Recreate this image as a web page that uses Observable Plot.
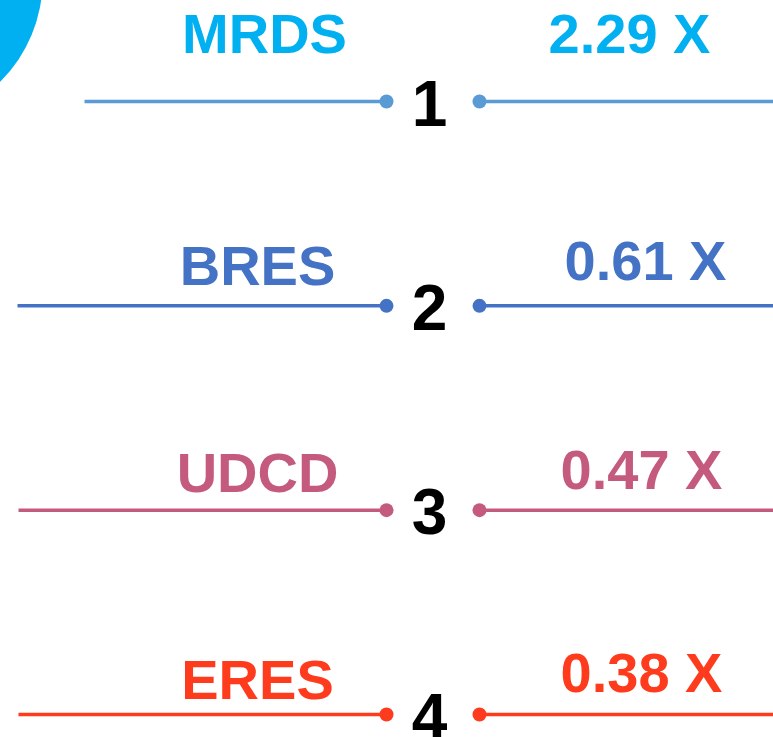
<!DOCTYPE html>
<html>
<head>
<meta charset="utf-8">
<script src="https://cdn.jsdelivr.net/npm/d3@7"></script>
<script src="https://cdn.jsdelivr.net/npm/@observablehq/plot@0.6"></script>
<style>
  html, body { margin: 0; padding: 0; background: #fff; overflow: hidden; }
  #chart svg { display: block; }
</style>
</head>
<body>
<div id="chart"></div>
<script>
// ---- data ----
const ranks = [1, 2, 3, 4];
const labels = ["MRDS", "BRES", "UDCD", "ERES"];
const values = [2.29, 0.61, 0.47, 0.38];

// ---- styles / layout (not data) ----
const textColors = ["#00B0F0", "#4472C4", "#C55A7F", "#FF3B1E"];
const lineColors = ["#5B9BD5", "#4472C4", "#C55A7F", "#FF3B1E"];
const W = 773, H = 737;
const rowTop = 101, rowBottom = 714;
const step = (rowBottom - rowTop) / (ranks.length - 1);
const leftStart = [84, 17, 18, 18];
const leftDotX = 386, rightDotX = 479;
const rankX = 429;
const labelX = [264, 257, 257, 257];
const valueX = [629, 645, 641, 641];
const labelOffset = [-49, -21, -18, -16];
const valueOffset = [-49, -26, -21, -23];

const rows = ranks.map((r, i) => ({
  rank: r, label: labels[i], value: values[i],
  tc: textColors[i], lc: lineColors[i],
  x0: leftStart[i], lx: labelX[i], vx: valueX[i],
  ly: r + labelOffset[i] / step, vy: r + valueOffset[i] / step
}));

const font = "'Liberation Sans', Arial, sans-serif";

const chart = Plot.plot({
  width: W, height: H, margin: 0,
  x: {domain: [0, W], range: [0, W], axis: null},
  y: {domain: [1, 4], range: [rowTop, rowBottom], axis: null},
  style: {fontFamily: font, background: "#fff"},
  marks: [
    Plot.dot([0], {frameAnchor: "top-left", dx: -100, dy: -20, r: 142, fill: "#00B0F0"}),
    Plot.link(rows, {x1: "x0", x2: () => leftDotX, y1: "rank", y2: "rank", stroke: "lc", strokeWidth: 3.5}),
    Plot.link(rows, {x1: () => rightDotX, x2: () => W + 5, y1: "rank", y2: "rank", stroke: "lc", strokeWidth: 3.5}),
    Plot.dot(rows, {x: () => leftDotX, y: "rank", r: 7, fill: "lc"}),
    Plot.dot(rows, {x: () => rightDotX, y: "rank", r: 7, fill: "lc"}),
    Plot.text(rows, {x: () => rankX, y: "rank", text: d => String(d.rank), lineAnchor: "bottom", dy: 24,
      fontSize: 64, fontWeight: "bold", fill: "#000", textAnchor: "middle"}),
    Plot.text(rows, {x: "lx", y: "ly", text: "label", lineAnchor: "bottom", fontSize: 56, fontWeight: "bold",
      fill: "tc", textAnchor: "middle"}),
    Plot.text(rows, {x: "vx", y: "vy", text: d => d.value.toFixed(2) + " X", lineAnchor: "bottom", fontSize: 56,
      fontWeight: "bold", fill: "tc", textAnchor: "middle"})
  ]
});
document.getElementById("chart").append(chart);
</script>
</body>
</html>
